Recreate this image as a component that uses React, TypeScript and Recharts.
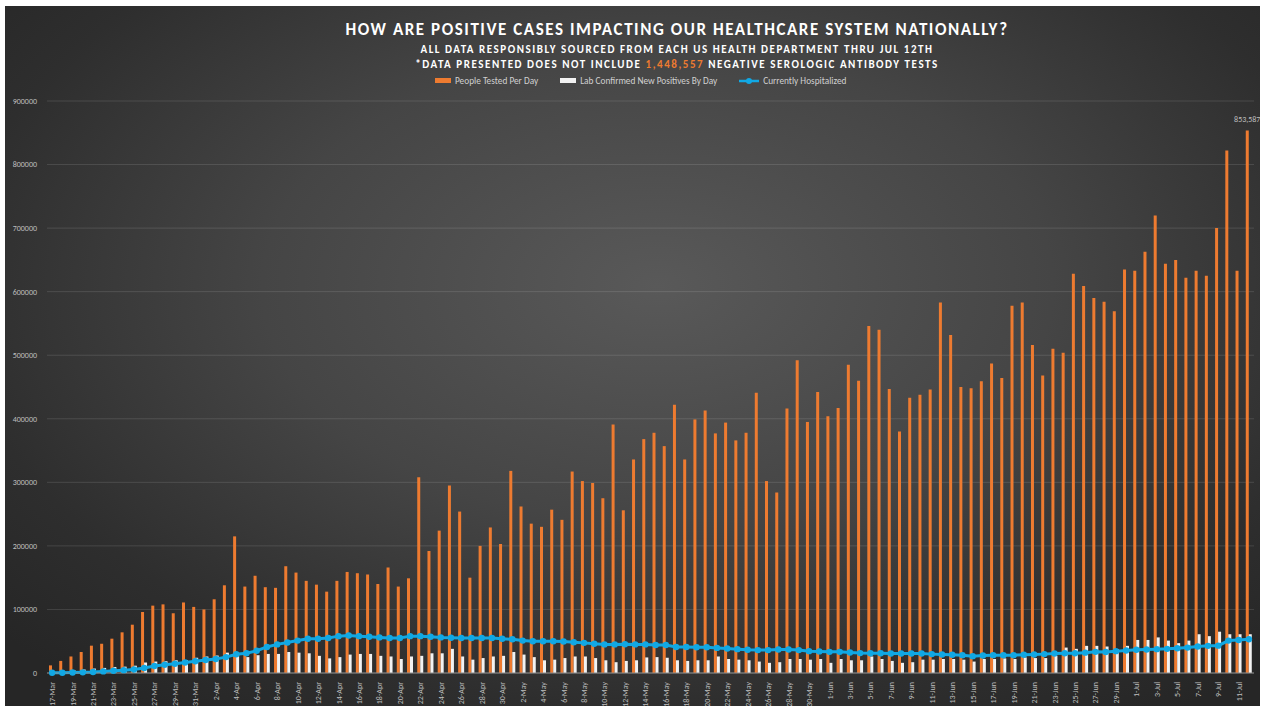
import React from "react";
import {
  ComposedChart,
  Bar,
  Line,
  XAxis,
  YAxis,
  CartesianGrid,
  LabelList,
} from "recharts";

const MONTHS = ["Mar", "Apr", "May", "Jun", "Jul"];
const DAY_RANGES = [
  [17, 31],
  [1, 30],
  [1, 31],
  [1, 30],
  [1, 12],
];

const dates: string[] = [];
DAY_RANGES.forEach(([from, to], m) => {
  for (let d = from; d <= to; d++) dates.push(`${d}-${MONTHS[m]}`);
});

const peopleTested = [
  12000, 19000, 26000, 33000, 43000, 46000, 54000, 64000, 76000, 96000, 106000, 108000, 94000, 111000, 104000,
  100000, 116000, 138000, 215000, 136000, 153000, 135000, 134000, 168000, 158000, 145000, 139000, 128000, 145000, 159000,
  157000, 155000, 140000, 166000, 136000, 149000, 308000, 192000, 224000, 295000, 254000, 150000, 200000, 229000, 203000,
  318000, 262000, 235000, 230000, 257000, 241000, 317000, 302000, 299000, 275000, 391000, 256000, 336000, 368000, 378000,
  357000, 422000, 336000, 399000, 413000, 377000, 394000, 366000, 378000, 441000, 302000, 284000, 416000, 492000, 395000,
  442000,
  404000, 417000, 485000, 460000, 546000, 540000, 447000, 380000, 433000, 438000, 446000, 583000, 532000, 450000, 448000,
  459000, 487000, 464000, 578000, 583000, 516000, 468000, 510000, 504000, 628000, 609000, 590000, 584000, 569000, 635000,
  633000, 663000, 720000, 644000, 650000, 622000, 633000, 625000, 700000, 822000, 633000, 853587,
];

const newPositives = [
  1800, 2600, 4500, 5500, 7000, 8000, 9500, 10000, 11500, 16500, 18000, 18500, 20000, 20500, 24000,
  26000, 27500, 32000, 30000, 25000, 28000, 30000, 30000, 33000, 32000, 31000, 27000, 23000, 25000, 29000,
  30000, 30000, 27000, 26000, 22000, 26000, 27000, 31000, 31000, 38000, 26000, 21000, 23500, 26000, 27000,
  33000, 29000, 25000, 20000, 21000, 23500, 26000, 26000, 23500, 20000, 17000, 19000, 20000, 24500, 25000,
  24000, 20000, 19000, 20000, 20000, 26000, 22000, 21000, 20000, 18000, 16000, 17000, 22000, 22000, 21000,
  22000,
  16000, 22000, 20000, 20000, 26000, 22000, 19000, 16000, 17000, 21000, 21000, 22000, 22000, 21000, 18000,
  22000, 22000, 23000, 22000, 24500, 23500, 23500, 27000, 40000, 38000, 42700, 42700, 41700, 37500, 42700,
  52000, 52000, 56000, 51000, 47000, 51000, 61000, 58000, 65000, 61000, 61000, 61000,
];

const hospitalized = [
  300, 400, 700, 1000, 1500, 2500, 3500, 4500, 5500, 7800, 11000, 13000, 14500, 16500, 18500,
  20500, 22000, 25000, 29500, 31000, 35000, 41000, 45000, 48000, 51000, 54000, 54000, 55000, 58000, 59000,
  58000, 57000, 56000, 55000, 55000, 58000, 58000, 57000, 56000, 55500, 55000, 55000, 55000, 55000, 54000,
  53000, 51000, 50000, 50000, 50000, 49500, 48500, 47400, 46000, 45000, 45000, 45300, 45000, 45000, 44000,
  44000, 41000, 41000, 40500, 40500, 39500, 38500, 37500, 36500, 36000, 36000, 37000, 37000, 36000, 34400,
  34000,
  33300, 33300, 32300, 31300, 31000, 31000, 30700, 30700, 30700, 30700, 29700, 29000, 28600, 28100, 26500,
  27600, 28100, 28100, 28100, 28600, 29000, 29700, 30700, 31000, 31000, 32000, 33300, 33000, 34400, 35500,
  36500, 37000, 37500, 38000, 39000, 40000, 41700, 42700, 43000, 51000, 52000, 53000,
];

const yTicks = [0, 100000, 200000, 300000, 400000, 500000, 600000, 700000, 800000, 900000];

const data = dates.map((date, i) => ({
  date,
  tested: peopleTested[i],
  positives: newPositives[i],
  hospitalized: hospitalized[i],
}));

const ORANGE = "#EE7B30";
const WHITE = "#F2F2F2";
const BLUE = "#11A8E4";
const AXIS_TEXT = "#BFBFBF";
const FONT = "Calibri, 'Open Sans', 'Noto Sans', sans-serif";

const DateTick = (props: any) => {
  const { x, y, payload } = props;
  return (
    <text
      x={x}
      y={y}
      dy={3}
      transform={`rotate(-90 ${x} ${y})`}
      textAnchor="end"
      fontSize={8}
      fill={AXIS_TEXT}
      fontFamily={FONT}
    >
      {payload.value}
    </text>
  );
};

const LastLabel = (props: any) => {
  const { x, y, width, value } = props;
  if (value !== peopleTested[peopleTested.length - 1]) return null;
  return (
    <text x={x + width / 2} y={y - 8} textAnchor="middle" fontSize={8} fill={AXIS_TEXT} fontFamily={FONT}>
      {value.toLocaleString("en-US")}
    </text>
  );
};

const legendItems = [
  { label: "People Tested Per Day", kind: "bar", color: ORANGE },
  { label: "Lab Confirmed New Positives By Day", kind: "bar", color: WHITE },
  { label: "Currently Hospitalized", kind: "line", color: BLUE },
];

export default function App() {
  return (
    <div
      style={{
        position: "absolute",
        left: 5,
        top: 6,
        width: 1255,
        height: 700,
        background:
          "radial-gradient(ellipse 70% 75% at 52% 40%, #595959 0%, #454545 45%, #2e2e2e 80%, #262626 100%)",
        fontFamily: FONT,
      }}
    >
      <div style={{ position: "absolute", top: 14, left: 0, width: 1344, textAlign: "center", color: "#fff" }}>
        <div style={{ fontSize: 17, fontWeight: 700, letterSpacing: 1.55, lineHeight: "20px" }}>
          HOW ARE POSITIVE CASES IMPACTING OUR HEALTHCARE SYSTEM NATIONALLY?
        </div>
        <div style={{ fontSize: 11, fontWeight: 700, letterSpacing: 1.55, lineHeight: "15px", marginTop: 2 }}>
          ALL DATA RESPONSIBLY SOURCED FROM EACH US HEALTH DEPARTMENT THRU JUL 12TH
        </div>
        <div style={{ fontSize: 11, fontWeight: 700, letterSpacing: 1.55, lineHeight: "15px" }}>
          *DATA PRESENTED DOES NOT INCLUDE <span style={{ color: ORANGE }}>1,448,557</span> NEGATIVE SEROLOGIC
          ANTIBODY TESTS
        </div>
      </div>

      <div
        style={{
          position: "absolute",
          top: 69,
          left: 430,
          display: "flex",
          alignItems: "center",
          gap: 22,
          fontSize: 9.3,
          color: "#D0D0D0",
        }}
      >
        {legendItems.map((item) => (
          <div key={item.label} style={{ display: "flex", alignItems: "center", gap: 4 }}>
            {item.kind === "bar" ? (
              <span style={{ display: "inline-block", width: 16, height: 5, background: item.color }} />
            ) : (
              <svg width={20} height={8}>
                <line x1={0} y1={4} x2={20} y2={4} stroke={item.color} strokeWidth={2.5} />
                <circle cx={10} cy={4} r={3} fill={item.color} />
              </svg>
            )}
            <span>{item.label}</span>
          </div>
        ))}
      </div>

      <ComposedChart
        width={1255}
        height={700}
        data={data}
        margin={{ top: 95, right: 6, left: 0, bottom: 0 }}
        barGap={0}
        style={{ position: "absolute", left: 0, top: 0 }}
      >
        <CartesianGrid vertical={false} stroke="rgba(255,255,255,0.12)" />
        <XAxis
          dataKey="date"
          interval={1}
          height={33}
          tick={<DateTick />}
          tickLine={false}
          tickMargin={3}
          axisLine={{ stroke: "#8C8C8C" }}
        />
        <YAxis
          width={42}
          domain={[0, 900000]}
          ticks={yTicks}
          interval={0}
          axisLine={false}
          tickLine={false}
          tickMargin={4}
          tick={{ fontSize: 8, fill: AXIS_TEXT, fontFamily: FONT }}
        />
        <Bar dataKey="tested" name="People Tested Per Day" fill={ORANGE} barSize={3} isAnimationActive={false}>
          <LabelList dataKey="tested" content={<LastLabel />} />
        </Bar>
        <Bar
          dataKey="positives"
          name="Lab Confirmed New Positives By Day"
          fill={WHITE}
          barSize={3}
          isAnimationActive={false}
        />
        <Line
          dataKey="hospitalized"
          name="Currently Hospitalized"
          type="linear"
          stroke={BLUE}
          strokeWidth={3}
          dot={{ r: 3.2, fill: BLUE, stroke: BLUE, strokeWidth: 0 }}
          activeDot={false}
          isAnimationActive={false}
        />
      </ComposedChart>
    </div>
  );
}
